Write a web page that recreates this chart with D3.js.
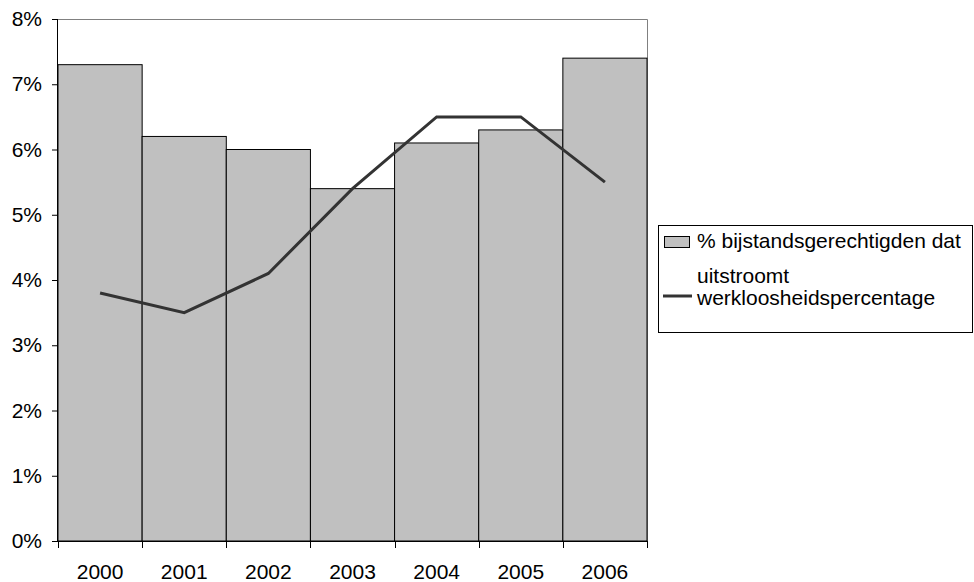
<!DOCTYPE html>
<html>
<head>
<meta charset="utf-8">
<script src="https://cdn.jsdelivr.net/npm/d3@7"></script>
<style>
  html, body { margin: 0; padding: 0; background: #fff; }
  svg { display: block; font-family: "Liberation Sans", Arial, sans-serif; }
</style>
</head>
<body>
<svg id="chart" width="974" height="582"></svg>
<script>
// Years on the x axis
const years = ["2000", "2001", "2002", "2003", "2004", "2005", "2006"];
// Share of welfare recipients leaving benefits (%)
const uitstroom = [7.3, 6.2, 6.0, 5.4, 6.1, 6.3, 7.4];
// Unemployment rate (%)
const werkloosheid = [3.8, 3.5, 4.1, 5.4, 6.5, 6.5, 5.5];
// Y axis ticks (%)
const yTicks = [0, 1, 2, 3, 4, 5, 6, 7, 8];
const legendLabels = [["% bijstandsgerechtigden dat", "uitstroomt"], ["werkloosheidspercentage"]];

const svg = d3.select("#chart");
const plotL = 58, plotR = 647, plotT = 19, plotB = 541;
const fontSize = 21;

const x = d3.scaleBand().domain(years).range([plotL, plotR]).padding(0);
const y = d3.scaleLinear().domain([0, 8]).range([plotB, plotT]);

// plot frame: gray top and right edges
svg.append("path")
  .attr("d", `M${plotL},${plotT + 0.5}H${plotR + 0.5}V${plotB}`)
  .attr("fill", "none").attr("stroke", "#808080").attr("stroke-width", 1);

// bars
svg.append("g").selectAll("rect").data(uitstroom).join("rect")
  .attr("x", (d, i) => x(years[i]))
  .attr("y", d => y(d))
  .attr("width", x.bandwidth())
  .attr("height", d => plotB - y(d))
  .attr("fill", "#c0c0c0")
  .attr("stroke", "#000").attr("stroke-width", 1);

// line
const line = d3.line()
  .x((d, i) => x(years[i]) + x.bandwidth() / 2)
  .y(d => y(d));
svg.append("path").datum(werkloosheid)
  .attr("d", line)
  .attr("fill", "none").attr("stroke", "#333333").attr("stroke-width", 3)
  .attr("stroke-linejoin", "miter");

// y axis
const yAxis = d3.axisLeft(y).tickValues(yTicks).tickFormat(d => d + "%").tickSize(6).tickPadding(10);
const gy = svg.append("g").attr("transform", `translate(${plotL},0)`).call(yAxis);
gy.select(".domain").attr("stroke", "#000").attr("d", `M-0.5,${plotT}V${plotB}`);
gy.selectAll(".tick line").attr("stroke", "#000");
gy.selectAll("text").attr("font-size", fontSize).attr("fill", "#000")
  .attr("font-family", "Liberation Sans, Arial, sans-serif");

// x axis: ticks at category boundaries
const gx = svg.append("g").attr("transform", `translate(0,${plotB})`);
gx.append("line").attr("x1", plotL).attr("x2", plotR).attr("y1", 0.5).attr("y2", 0.5).attr("stroke", "#000");
const boundaries = years.map(d => x(d)).concat([x(years[years.length - 1]) + x.bandwidth()]);
gx.selectAll("line.tk").data(boundaries).join("line").attr("class", "tk")
  .attr("x1", d => Math.round(d) + 0.5).attr("x2", d => Math.round(d) + 0.5)
  .attr("y1", 0).attr("y2", 7).attr("stroke", "#000");
gx.selectAll("text").data(years).join("text")
  .attr("x", d => x(d) + x.bandwidth() / 2)
  .attr("y", 38)
  .attr("text-anchor", "middle")
  .attr("font-size", fontSize).attr("fill", "#000")
  .text(d => d);

// legend
const lg = svg.append("g");
lg.append("rect").attr("x", 658.5).attr("y", 225.5).attr("width", 314).attr("height", 107)
  .attr("fill", "#fff").attr("stroke", "#000").attr("stroke-width", 1);
lg.append("rect").attr("x", 664.5).attr("y", 236.5).attr("width", 25).attr("height", 11)
  .attr("fill", "#c0c0c0").attr("stroke", "#000").attr("stroke-width", 1);
lg.append("line").attr("x1", 663).attr("x2", 692).attr("y1", 296).attr("y2", 296)
  .attr("stroke", "#333333").attr("stroke-width", 3);
const legendY = [[248, 283], [305]];
legendLabels.forEach((lines, i) => {
  lines.forEach((t, j) => {
    lg.append("text").attr("x", 697).attr("y", legendY[i][j])
      .attr("font-size", fontSize).attr("fill", "#000").text(t);
  });
});
</script>
</body>
</html>
